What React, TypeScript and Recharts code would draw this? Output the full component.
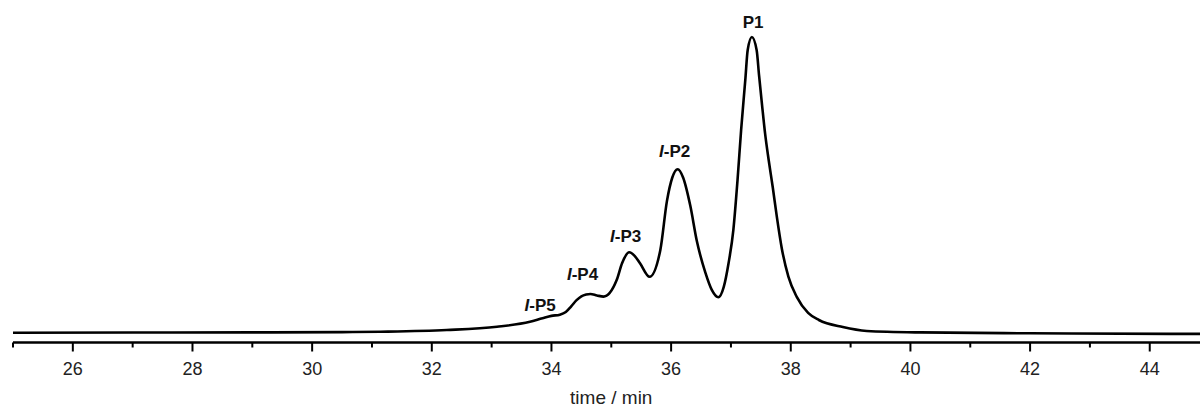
import React from "react";
import { ComposedChart, Line, XAxis, YAxis, ReferenceDot } from "recharts";

// retention time (min) and detector signal (P1 peak = 100)
const times = [
  25.0, 27.0, 29.0, 30.5, 31.14, 32.25, 33.09, 33.64, 33.85, 34.0, 34.14, 34.24,
  34.33, 34.42, 34.5, 34.58, 34.65, 34.76, 34.87, 35.09, 35.18, 35.3, 35.39, 35.48,
  35.64, 35.82, 35.93, 36.02, 36.11, 36.2, 36.32, 36.43, 36.57, 36.68, 36.79,
  36.88, 36.96, 37.04, 37.11, 37.17, 37.24, 37.28, 37.35, 37.43, 37.47, 37.52,
  37.57, 37.63, 37.7, 37.765, 37.85, 37.96, 38.1, 38.29, 38.47, 38.87, 39.27,
  40.16, 42.0, 44.84,
];
const signal = [
  0, 0.05, 0.1, 0.2, 0.34, 0.9, 2.0, 3.7, 4.9, 5.7, 6.1, 7.0,
  8.9, 11.0, 12.3, 12.9, 13.1, 12.6, 12.2, 17.8, 23.5, 27.2, 26.0, 23.5,
  18.9, 28.0, 44.5, 52.5, 55.3, 52.5, 43.0, 31.0, 20.5, 14.5, 12.0,
  15.5, 23.5, 34.7, 51.6, 68.5, 85.5, 95.6, 100, 95.5, 87, 77,
  67.5, 58.5, 49, 39.5, 28.5, 19, 12.1, 6.7, 4.3, 1.9, 0.6,
  0.1, -0.2, -0.4,
];

const peakNames = ["P1", "P2", "P3", "P4", "P5"];
const peakIsomer = [false, true, true, true, true];
const peakLabelTimes = [37.37, 36.06, 35.24, 34.52, 33.81];
const peakLabelValues = [103.0, 59.5, 30.7, 17.8, 7.2];

const xTicks = [25, 26, 27, 28, 29, 30, 31, 32, 33, 34, 35, 36, 37, 38, 39, 40, 41, 42, 43, 44];

const X_MIN = 25;
const X_MAX = 44.84;
const FONT = "'Liberation Sans', Arial, sans-serif";

const data = times.map((t, i) => ({ t, v: signal[i] }));

const TimeTick = ({ x, y, payload }: any) => {
  const major = payload.value % 2 === 0;
  return (
    <g>
      <line x1={x} x2={x} y1={y} y2={y + (major ? 9 : 5)} stroke="#000" strokeWidth={2} />
      {major && (
        <text x={x} y={y + 32.5} textAnchor="middle" fontSize={18} fontFamily={FONT} fill="#222">
          {payload.value}
        </text>
      )}
    </g>
  );
};

const AxisTitle = ({ viewBox }: any) => {
  const cx = viewBox.x + ((35 - X_MIN) / (X_MAX - X_MIN)) * viewBox.width;
  return (
    <text x={cx} y={viewBox.y + 61.5} textAnchor="middle" fontSize={19} fontFamily={FONT} fill="#222">
      time / min
    </text>
  );
};

const PeakText = ({ cx, cy, name, isomer }: any) => (
  <text x={cx} y={cy} textAnchor="middle" fontSize={17} fontWeight="bold" fontFamily={FONT} fill="#111">
    {isomer && <tspan fontStyle="italic">I</tspan>}
    {isomer ? `-${name}` : name}
  </text>
);

export default function App() {
  return (
    <div style={{ position: "absolute", left: 0, top: 0, background: "#fff" }}>
      <ComposedChart width={1200} height={407} data={data} margin={{ top: 0, right: 0, bottom: 0, left: 13 }}>
        <XAxis
          dataKey="t"
          type="number"
          domain={[X_MIN, X_MAX]}
          ticks={xTicks}
          interval={0}
          height={64.5}
          tickLine={false}
          tickSize={0}
          tickMargin={0}
          tick={<TimeTick />}
          axisLine={{ stroke: "#000", strokeWidth: 2.5 }}
          allowDataOverflow
          label={(props: any) => <AxisTitle {...props} />}
        />
        <YAxis hide domain={[-3.31, 112.51]} allowDataOverflow width={0} />
        <Line
          type="monotone"
          dataKey="v"
          stroke="#000"
          strokeWidth={2.6}
          dot={false}
          isAnimationActive={false}
        />
        {peakNames.map((name, i) => (
          <ReferenceDot
            key={name}
            x={peakLabelTimes[i]}
            y={peakLabelValues[i]}
            r={0}
            shape={(p: any) => <PeakText cx={p.cx} cy={p.cy} name={name} isomer={peakIsomer[i]} />}
          />
        ))}
      </ComposedChart>
    </div>
  );
}
